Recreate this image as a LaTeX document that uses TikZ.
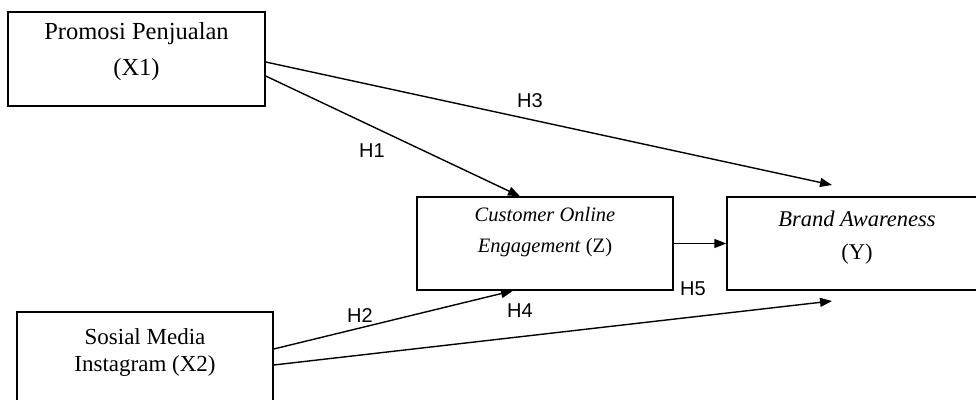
\documentclass[tikz,border=0pt]{standalone}
\usepackage{fontspec}
\setmainfont{Liberation Serif}
\newfontfamily\hypfont{Liberation Sans}
\usetikzlibrary{arrows.meta}

\begin{document}
\begin{tikzpicture}[x=1pt,y=-1pt,
	var_box/.style={draw,line width=1.4pt,inner sep=0pt},
	var_text/.style={align=center,inner sep=0pt},
	hyp_label/.style={font=\hypfont\fontsize{20}{24}\selectfont,inner sep=0pt},
	path_arrow/.style={line width=1.4pt,-{Triangle[length=12pt,width=9pt]}}]
	\useasboundingbox (0,0) rectangle (976,399);
	\clip (0,0) rectangle (976,399);
	
	\node[var_box,minimum width=257pt,minimum height=94pt] (x1) at (136.5,59) {};
	\node[var_box,minimum width=256pt,minimum height=108pt] (x2) at (145,366) {};
	\node[var_box,minimum width=256pt,minimum height=93pt] (z) at (545,243.5) {};
	\node[var_box,minimum width=260pt,minimum height=93pt] (y) at (857,243.5) {};
	
	\node[var_text,font=\fontsize{24.5}{36}\selectfont] (x1_txt) at (136.5,52) {Promosi Penjualan\\(X1)};
	\node[var_text,font=\fontsize{23}{27}\selectfont] (x2_txt) at (145,352.5) {Sosial Media\\Instagram (X2)};
	\node[var_text,font=\fontsize{20.5}{31}\selectfont] (z_txt) at (545,232.5) {\textit{Customer Online}\\\textit{Engagement} (Z)};
	\node[var_text,font=\fontsize{22.5}{33}\selectfont] (y_txt) at (857,237.5) {\textit{Brand Awareness}\\(Y)};
	
	\coordinate (h3_end) at (832,185);
	\coordinate (h4_end) at (832,301);
	
	\draw[path_arrow] ([yshift=-3pt]x1.east) -- (h3_end);
	\draw[path_arrow] ([yshift=-17pt]x1.east) -- ([xshift=-25pt]z.north);
	\draw[path_arrow] ([yshift=17pt]x2.east) -- ([xshift=-32pt]z.south);
	\draw[path_arrow] ([yshift=1pt]x2.east) -- (h4_end);
	\draw[path_arrow] (z.east) -- (y.west);
	
	\node[hyp_label] (h1) at (372,151) {H1};
	\node[hyp_label] (h2) at (360,316) {H2};
	\node[hyp_label] (h3) at (530,101) {H3};
	\node[hyp_label] (h4) at (520,311) {H4};
	\node[hyp_label] (h5) at (693,289) {H5};
\end{tikzpicture}
\end{document}
